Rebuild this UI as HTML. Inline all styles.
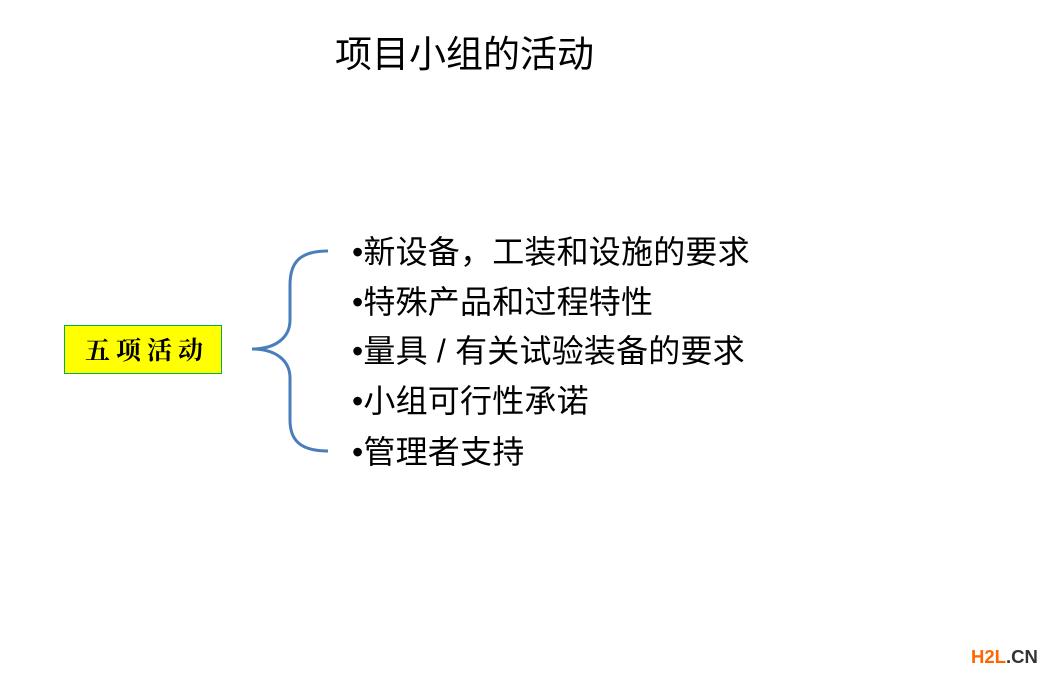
<!DOCTYPE html>
<html><head><meta charset="utf-8"><style>
body{margin:0;width:1058px;height:680px;background:#fff;position:relative;overflow:hidden;font-family:"Liberation Sans","Noto Sans CJK SC",sans-serif;}
.t{position:absolute;white-space:nowrap;color:#000;}
.l{position:absolute;left:352px;font-size:32px;letter-spacing:0.2px;line-height:34px;white-space:nowrap;}
</style></head><body>
<div class="t" style="left:335px;top:33px;font-size:37px;line-height:44px;">项目小组的活动</div>
<div style="position:absolute;left:64px;top:325px;width:156px;height:47px;background:#ffff00;border:1px solid #00b050;"></div>
<div class="t" style="left:68px;top:330px;width:158px;text-align:center;font-size:25px;line-height:38px;font-family:'Noto Serif CJK SC',serif;font-weight:bold;letter-spacing:6px;">五项活动</div>
<svg style="position:absolute;left:0;top:0" width="1058" height="680">
<path d="M328 251 C300 251 290 262 290 285 L290 320 C290 338 275 349 252 349 C275 349 290 360 290 378 L290 420 C290 440 300 451 328 451" fill="none" stroke="#4a7ebb" stroke-width="3"/>
</svg>
<div class="l" style="top:235px">•新设备，工装和设施的要求</div>
<div class="l" style="top:285px">•特殊产品和过程特性</div>
<div class="l" style="top:334px">•量具 / 有关试验装备的要求</div>
<div class="l" style="top:384px">•小组可行性承诺</div>
<div class="l" style="top:435px">•管理者支持</div>
<div class="t" style="left:971px;top:646px;font-size:18.5px;font-weight:bold;line-height:22px;"><span style="color:#f60">H2L</span><span style="color:#333">.CN</span></div>
</body></html>
